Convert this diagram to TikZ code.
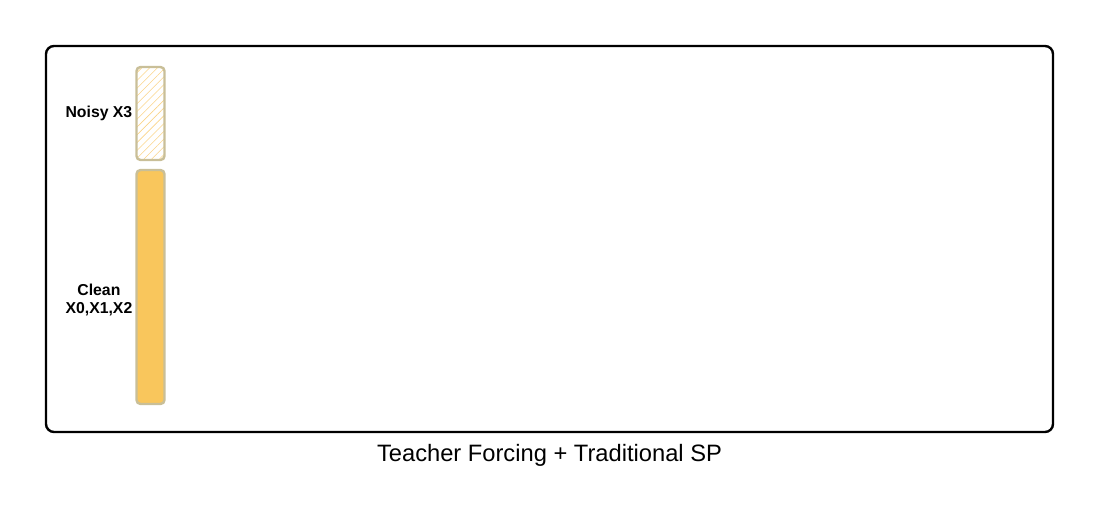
\documentclass[tikz,border=0pt]{standalone}
\usepackage{fontspec}
\setmainfont{Liberation Sans}
\usetikzlibrary{patterns.meta}
\definecolor{boxedge}{HTML}{C9BF98}
\definecolor{cleanfill}{HTML}{F9C65C}
\definecolor{hatch}{HTML}{FAD488}
\tikzset{
  frame/.style={draw=black, line width=2.4pt, rounded corners=8pt},
  bar/.style={draw=boxedge, line width=2.4pt, rounded corners=4pt, minimum width=28pt, inner sep=0pt},
  lab/.style={font=\bfseries\fontsize{15.8}{18}\selectfont, align=center, anchor=east, inner sep=1pt}
}
\begin{document}
\begin{tikzpicture}[x=1pt,y=-1pt]
\useasboundingbox (0,0) rectangle (1100,513);
\node[frame, minimum width=1007pt, minimum height=386pt, inner sep=0pt] (outer) at (549.5,239) {};
\node[bar, minimum height=93pt, pattern={Lines[angle=45,distance=5.5pt,line width=0.6pt]}, pattern color=hatch] (noisy) at (150.5,113.5) {};
\node[bar, minimum height=234pt, fill=cleanfill] (clean) at (150.5,287) {};
\node[lab] (nlab) at (133.5,113.5) {Noisy X3};
\node[lab] (clab) at (133.5,300) {Clean\\X0,X1,X2};
\node[font=\fontsize{23.7}{28}\selectfont] (cap) at (549.5,455.5) {Teacher Forcing + Traditional SP};
\end{tikzpicture}
\end{document}
